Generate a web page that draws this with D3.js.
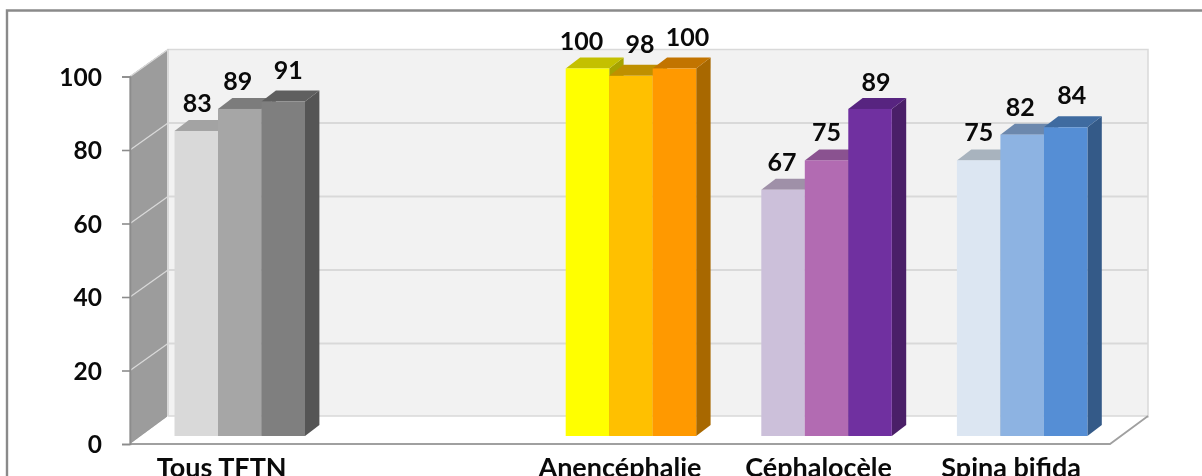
<!DOCTYPE html>
<html><head><meta charset="utf-8">
<script src="https://cdn.jsdelivr.net/npm/d3@7"></script>
<style>html,body{margin:0;padding:0;background:#fff;overflow:hidden}svg{display:block;filter:blur(0.4px)}text{font-family:Lato,sans-serif;fill:#0a0a0a}</style>
</head><body><svg id="c" width="1202" height="476"></svg>
<script>
const categories = ["Tous TFTN", "", "Anencéphalie", "Céphalocèle", "Spina bifida"];
const series1 = [83, null, 100, 67, 75];
const series2 = [89, null, 98, 75, 82];
const series3 = [91, null, 100, 89, 84];
const yTicks = [0, 20, 40, 60, 80, 100];
const frontColors = [["#d9d9d9","#a6a6a6","#7f7f7f"],[],["#ffff00","#ffc000","#ff9900"],["#ccc0da","#b26bb2","#7030a0"],["#dce6f2","#8db3e2","#558ed5"]];
const topColors = [["#a3a3a3","#7c7c7c","#5f5f5f"],[],["#c4c000","#bf9000","#c27400"],["#9f90a8","#8a5290","#572480"],["#a8b3be","#6c88ad","#3f6ba0"]];
const sideColors = [["#8a8a8a","#6a6a6a","#555555"],[],["#a6a300","#a87e00","#a86800"],["#8a7d96","#74437a","#4a1f68"],["#8e99a6","#5a7496","#345a88"]];
const labelNudge = [[[1,0],[-2,0],[5,-4]],[],[[-6,0],[9,-4],[13,-4]],[[-1,0],[0,0],[6,1]],[[0,0],[-2,0],[6,-4]]];
const categoryNudge = [-18, 0, -11, -8, -11];

const svg = d3.select("#c");
const depthX = 38, depthY = 27;        // wall depth
const barDX = 14.4, barDY = 11;        // bar depth
const y = d3.scaleLinear().domain([0,100]).range([444,76.5]);
const x = d3.scaleBand().domain(categories.map((d,i)=>i)).range([174.5,174.5+195.6*5]).paddingInner(0).paddingOuter(0);
const barW = 43.5, barBase = 436;
const by = v => y(v) - (y(0)-barBase);
const pts = a => a.map(p=>p.join(",")).join(" ");
const left = 130, right = 1110;

// frame
svg.append("path").attr("d","M7,476V10.5H1202").attr("fill","none").attr("stroke","#8a8a8a").attr("stroke-width",2.4);

// back wall
svg.append("rect").attr("x",left+depthX).attr("y",y(100)-depthY).attr("width",right-left).attr("height",y(0)-y(100))
  .attr("fill","#f2f2f2").attr("stroke","#d9d9d9").attr("stroke-width",1.5);
// left wall
svg.append("polygon").attr("points",pts([[left,y(100)],[left+depthX,y(100)-depthY],[left+depthX,y(0)-depthY-1],[left,y(0)]]))
  .attr("fill","#9c9c9c").attr("stroke","#8c8c8c").attr("stroke-width",1);
svg.append("line").attr("x1",left).attr("y1",y(100)).attr("x2",left+depthX).attr("y2",y(100)-depthY).attr("stroke","#d9d9d9").attr("stroke-width",1.5);
svg.append("line").attr("x1",left+depthX).attr("y1",y(100)-depthY).attr("x2",left+depthX).attr("y2",y(0)-depthY).attr("stroke","#d9d9d9").attr("stroke-width",2);
// floor
svg.append("polygon").attr("points",pts([[left,y(0)],[left+depthX,y(0)-depthY-1],[right+depthX,y(0)-depthY-1],[right,y(0)]])).attr("fill","#fff");
svg.append("path").attr("d",`M${left+depthX},${y(0)-depthY-1}H${right+depthX}`).attr("stroke","#d9d9d9").attr("stroke-width",1.5);
svg.append("path").attr("d",`M${left},${y(0)}H${right}L${right+depthX},${y(0)-depthY-1}`).attr("fill","none").attr("stroke","#a0a0a0").attr("stroke-width",1.8);

// gridlines
yTicks.filter(t=>t>0&&t<100).forEach(t=>{
  svg.append("line").attr("x1",left+depthX).attr("x2",right+depthX).attr("y1",y(t)-depthY).attr("y2",y(t)-depthY).attr("stroke","#d9d9d9").attr("stroke-width",2);
  svg.append("line").attr("x1",left).attr("x2",left+depthX).attr("y1",y(t)).attr("y2",y(t)-depthY).attr("stroke","#d9d9d9").attr("stroke-width",1.3);
});

// axis
const axis = d3.axisLeft(y).tickValues(yTicks).tickSize(8).tickPadding(20);
const ag = svg.append("g").attr("transform",`translate(${left},0)`).call(axis);
ag.select(".domain").attr("stroke","#8c8c8c").attr("stroke-width",1.6);
ag.selectAll(".tick line").attr("stroke","#8c8c8c").attr("stroke-width",1.6);
ag.selectAll(".tick text").attr("font-size",24.5).attr("font-weight",700).attr("dy","0.36em").style("font-family","Lato,sans-serif").attr("fill","#0a0a0a");

// bars
const allSeries = [series1, series2, series3];
categories.forEach((c,ci)=>{
  allSeries.forEach((s,si)=>{
    const v = s[ci]; if (v==null) return;
    const x0 = x(ci) + si*barW, x1 = x0+barW, t = by(v);
    svg.append("polygon").attr("points",pts([[x1,t],[x1+barDX,t-barDY],[x1+barDX,barBase-barDY],[x1,barBase]])).attr("fill",sideColors[ci][si]);
    svg.append("polygon").attr("points",pts([[x0,t],[x0+barDX,t-barDY],[x1+barDX,t-barDY],[x1,t]])).attr("fill",topColors[ci][si]);
    svg.append("rect").attr("x",x0).attr("y",t).attr("width",barW).attr("height",barBase-t).attr("fill",frontColors[ci][si]);
    const n = labelNudge[ci][si];
    svg.append("text").attr("x",x0+barW/2+n[0]).attr("y",t-19+n[1]).attr("text-anchor","middle").attr("font-size",25).attr("font-weight",700).text(v);
  });
  if (c) svg.append("text").attr("x",x(ci)+barW*1.5+categoryNudge[ci]).attr("y",477).attr("text-anchor","middle").attr("font-size",27).attr("font-weight",700).text(c);
});
</script></body></html>
